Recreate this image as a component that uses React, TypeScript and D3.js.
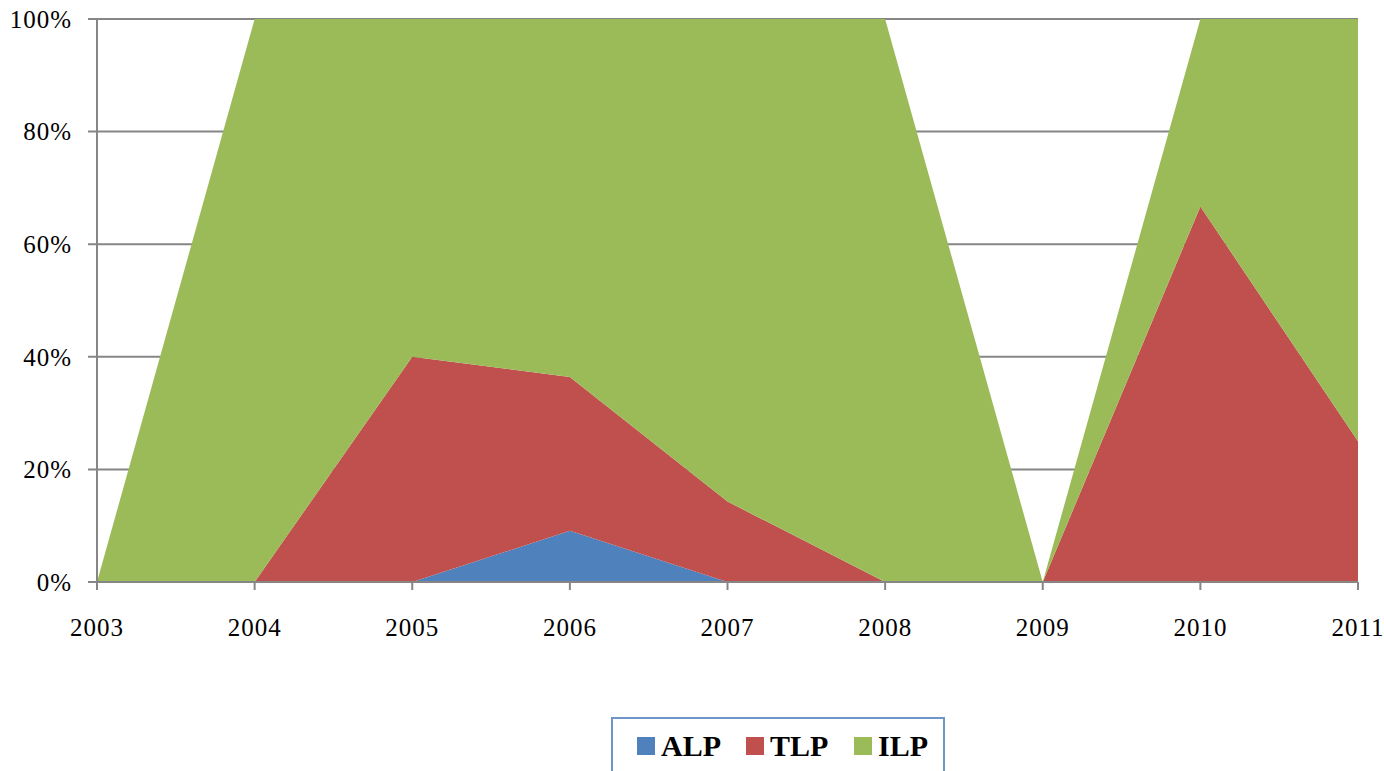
import React, { useEffect, useRef } from 'react';
import * as d3 from 'd3';

// Shares per year (percent of total)
const years = ['2003', '2004', '2005', '2006', '2007', '2008', '2009', '2010', '2011'];
const alp = [0, 0, 0, 9.1, 0, 0, 0, 0, 0];
const tlp = [0, 0, 40, 27.3, 14.3, 0, 0, 66.7, 25];
const ilp = [0, 100, 60, 63.6, 85.7, 100, 0, 33.3, 75];
const seriesNames = ['ALP', 'TLP', 'ILP'];
const seriesColors = ['#4f81bd', '#c0504d', '#9bbb59'];
const yTicks = [0, 20, 40, 60, 80, 100];

const App: React.FC = () => {
  const svgRef = useRef<SVGSVGElement>(null);

  useEffect(() => {
    if (!svgRef.current) return;
    const svg = d3.select(svgRef.current);
    svg.selectAll('*').remove();

    const width = 1384;
    const height = 771;
    const margin = { left: 97, right: 26, top: 19, bottom: 189 };
    const font = '"Liberation Serif", "DejaVu Serif", serif';

    const rows = years.map((y, i) => ({ year: y, ALP: alp[i], TLP: tlp[i], ILP: ilp[i] }));

    const x = d3.scalePoint<string>()
      .domain(years)
      .range([margin.left, width - margin.right]);
    const y = d3.scaleLinear()
      .domain([0, 100])
      .range([height - margin.bottom, margin.top]);

    svg.append('rect')
      .attr('width', width)
      .attr('height', height)
      .attr('fill', '#ffffff');

    // Gridlines
    svg.append('g')
      .selectAll('line')
      .data(yTicks.filter(t => t > 0))
      .enter()
      .append('line')
      .attr('x1', margin.left - 9)
      .attr('x2', width - margin.right)
      .attr('y1', d => y(d))
      .attr('y2', d => y(d))
      .attr('stroke', '#868686')
      .attr('stroke-width', 2);

    // Stacked areas
    const stack = d3.stack<any>().keys(seriesNames);
    const layers = stack(rows);
    const area = d3.area<any>()
      .x(d => x(d.data.year) as number)
      .y0(d => y(d[0]))
      .y1(d => y(d[1]));

    svg.append('g')
      .selectAll('path')
      .data(layers)
      .enter()
      .append('path')
      .attr('d', area as any)
      .attr('fill', (_d, i) => seriesColors[i]);

    // Y axis line
    svg.append('line')
      .attr('x1', margin.left)
      .attr('x2', margin.left)
      .attr('y1', y(100))
      .attr('y2', y(0))
      .attr('stroke', '#868686')
      .attr('stroke-width', 2);

    // X axis line (0% gridline) with tick marks
    svg.append('line')
      .attr('x1', margin.left - 9)
      .attr('x2', width - margin.right)
      .attr('y1', y(0))
      .attr('y2', y(0))
      .attr('stroke', '#868686')
      .attr('stroke-width', 2);

    svg.append('g')
      .selectAll('line')
      .data(years)
      .enter()
      .append('line')
      .attr('x1', d => x(d) as number)
      .attr('x2', d => x(d) as number)
      .attr('y1', y(0))
      .attr('y2', y(0) + 8)
      .attr('stroke', '#868686')
      .attr('stroke-width', 2);

    // Y labels
    svg.append('g')
      .selectAll('text')
      .data(yTicks)
      .enter()
      .append('text')
      .attr('x', 72)
      .attr('y', d => y(d))
      .attr('dy', '0.35em')
      .attr('text-anchor', 'end')
      .attr('font-family', font)
      .attr('font-size', 25)
      .attr('letter-spacing', 1)
      .attr('fill', '#000')
      .text(d => `${d}%`);

    // X labels
    svg.append('g')
      .selectAll('text')
      .data(years)
      .enter()
      .append('text')
      .attr('x', d => x(d) as number)
      .attr('y', y(0) + 54)
      .attr('text-anchor', 'middle')
      .attr('font-family', font)
      .attr('font-size', 25)
      .attr('letter-spacing', 1)
      .attr('fill', '#000')
      .text(d => d);

    // Legend
    const legend = svg.append('g');
    legend.append('rect')
      .attr('x', 612)
      .attr('y', 718)
      .attr('width', 332)
      .attr('height', 70)
      .attr('fill', '#ffffff')
      .attr('stroke', '#6f96c8')
      .attr('stroke-width', 2);

    const legendX = [637, 746, 854];
    seriesNames.forEach((name, i) => {
      legend.append('rect')
        .attr('x', legendX[i])
        .attr('y', 737)
        .attr('width', 18)
        .attr('height', 18)
        .attr('fill', seriesColors[i]);
      legend.append('text')
        .attr('x', legendX[i] + 24)
        .attr('y', 756)
        .attr('font-family', font)
        .attr('font-weight', 'bold')
        .attr('font-size', 30)
        .attr('fill', '#000')
        .text(name);
    });
  }, []);

  return (
    <svg
      ref={svgRef}
      width={1384}
      height={771}
      style={{ position: 'absolute', left: 0, top: 0, display: 'block' }}
    />
  );
};

export default App;
